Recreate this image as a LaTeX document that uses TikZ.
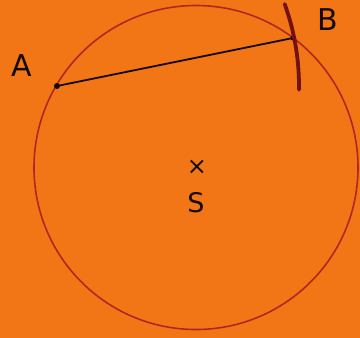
\documentclass[tikz,border=0pt]{standalone}
\usepackage{fontspec}
\setmainfont{DejaVu Sans}
\definecolor{paper}{RGB}{242,118,22}
\definecolor{circ}{RGB}{178,38,34}
\definecolor{arcm}{RGB}{115,18,18}
\definecolor{ink}{RGB}{20,10,10}
\tikzset{
  lbl/.style={text=ink, font=\fontsize{30}{30}\selectfont, inner sep=0pt},
  pt/.style={circle, fill=ink, inner sep=0pt, minimum size=6pt}
}
\begin{document}
\begin{tikzpicture}[x=1pt,y=-1pt]
\fill[paper] (0,0) rectangle (360,338);
\useasboundingbox (0,0) rectangle (360,338);
\coordinate (S) at (196,167.5);
\draw[circ, line width=1.6pt] (S) circle[radius=162];
\node[pt] (A) at (57,86) {};
\node[pt, minimum size=5pt] (B) at (293,38) {};
\draw[ink, line width=1.8pt] (A.center) -- (B.center);
% compass arc centred at A
\draw[arcm, line width=3.8pt, line cap=round]
  (A.center) ++(-19.8:242) arc[start angle=-19.8, end angle=0.9, radius=242];
\node[lbl] (la) at (22,66) {A};
\node[lbl] (lb) at (328,20) {B};
\node[ink, font=\fontsize{24}{24}\selectfont, inner sep=0pt] (x) at (197,167) {×};
\node[lbl, font=\fontsize{27}{27}\selectfont] (ls) at (196,203) {S};
\end{tikzpicture}
\end{document}
